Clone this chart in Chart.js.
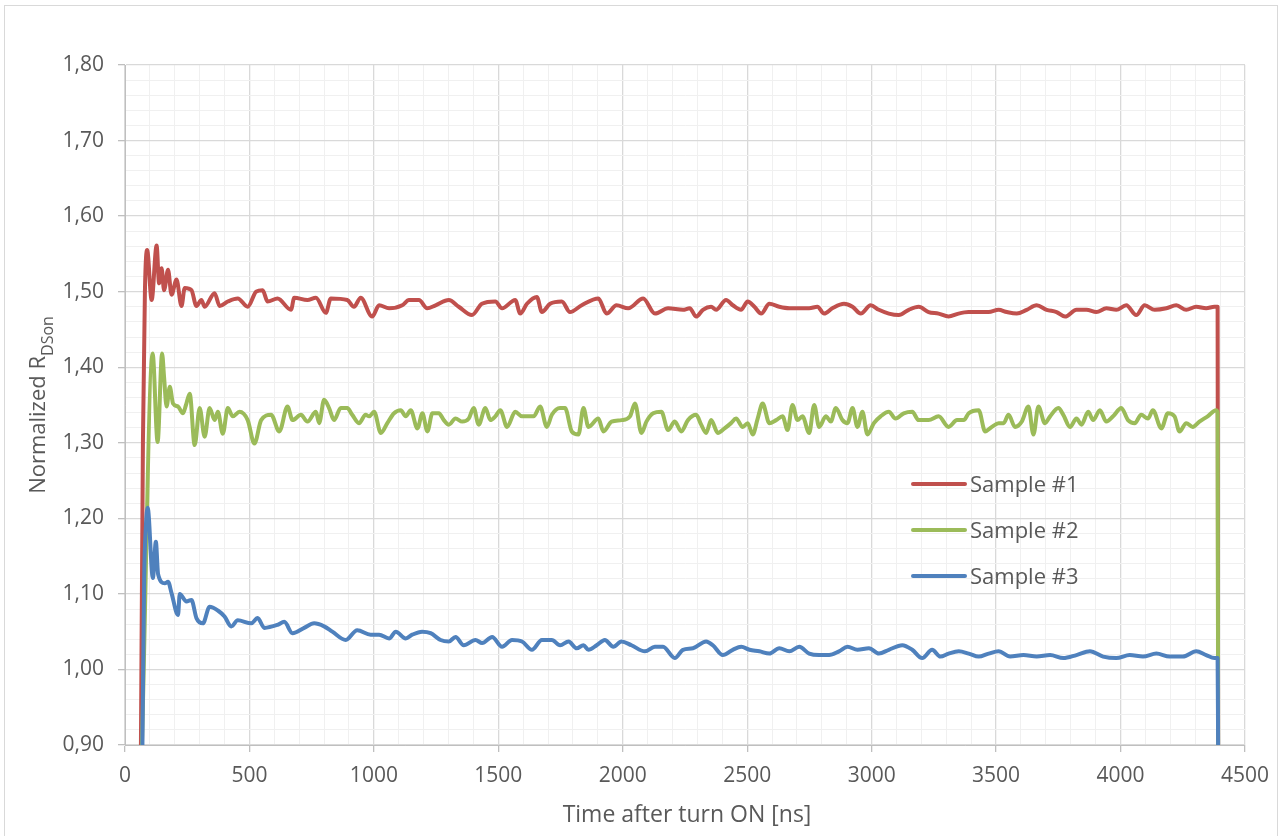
<!DOCTYPE html>
<html><head><meta charset="utf-8">
<script src="https://cdn.jsdelivr.net/npm/chart.js@4.4.1/dist/chart.umd.min.js"></script>
<style>html,body{margin:0;padding:0;background:#fff}#wrap{position:relative;width:1280px;height:836px}canvas{display:block}</style>
</head><body><div id="wrap"><canvas id="c" width="1280" height="836"></canvas></div>
<script>
const seriesNames = ['Sample #1', 'Sample #2', 'Sample #3'];
const seriesColors = ['#C0504D', '#9BBB59', '#4F81BD'];
const xAxisTitle = 'Time after turn ON [ns]';
const yAxisTitleMain = 'Normalized R';
const yAxisTitleSub = 'DSon';
const xMin = 0, xMax = 4500, xMinor = 100, xMajor = 500;
const yMin = 0.9, yMax = 1.8, yMinor = 0.02;

const s1Time = [64,72,80,89,107,127,137,147,157,173,187,207,227,240,267,287,307,320,360,380,413,453,493,527,553,573,613,667,680,733,767,807,827,893,920,947,993,
1021,1061,1114,1141,1181,1214,1248,1301,1341,1394,1434,1488,1515,1568,1588,1615,1655,1675,1708,1755,1788,1835,1902,1935,1975,2022,2082,2129,2182,2242,
2269,2295,2322,2355,2375,2415,2442,2475,2502,2529,2556,2589,2629,2669,2709,2749,2782,2809,2842,2889,2923,2956,2996,3029,3069,3109,3149,3189,3229,3269,3309,3349,3389,3430,3470,3510,
3543,3583,3623,3663,3703,3743,3777,3823,3863,3903,3943,3983,4023,4063,4097,4137,4184,4224,4264,4304,4344,4377,4390,4392];
const s1Val = [0.90,1.30,1.50,1.555,1.489,1.561,1.511,1.531,1.502,1.529,1.496,1.516,1.481,1.505,1.502,1.481,1.489,1.480,1.498,1.481,1.487,1.491,1.480,1.500,1.502,1.487,1.491,1.476,1.492,1.489,1.492,1.472,1.491,1.489,1.480,1.492,1.467,
1.482,1.478,1.482,1.489,1.489,1.478,1.482,1.489,1.480,1.469,1.484,1.487,1.478,1.489,1.471,1.484,1.493,1.473,1.484,1.487,1.473,1.482,1.491,1.471,1.482,1.478,1.491,1.471,1.478,1.476,
1.478,1.467,1.476,1.480,1.476,1.489,1.482,1.476,1.487,1.480,1.471,1.484,1.480,1.478,1.478,1.478,1.480,1.471,1.478,1.484,1.480,1.471,1.482,1.476,1.471,1.469,1.476,1.480,1.473,1.471,1.467,1.471,1.473,1.473,1.473,1.476,
1.473,1.471,1.476,1.482,1.476,1.473,1.467,1.476,1.476,1.473,1.478,1.476,1.482,1.469,1.482,1.476,1.478,1.482,1.476,1.480,1.478,1.480,1.480,0.90];

const s2Time = [68,111,131,149,157,167,180,193,213,233,245,260,280,300,320,340,360,373,393,413,433,460,493,520,547,587,620,653,673,707,733,767,780,800,820,840,867,893,913,940,967,
981,1001,1028,1054,1081,1108,1128,1148,1175,1195,1215,1235,1261,1281,1301,1328,1355,1381,1401,1421,1448,1468,1488,1508,1535,1568,1595,1642,1668,1695,1715,1748,1768,1795,1822,1842,1862,1902,1922,1955,1995,2029,2049,2075,2095,2122,2155,2182,2209,2235,
2262,2295,2315,2335,2355,2382,2409,2435,2455,2482,2502,2522,2542,2562,2589,2616,2642,2662,2682,2702,2722,2749,2769,2789,2816,2836,2856,2883,2903,2923,2943,2963,2983,3009,3036,3069,3096,3129,3163,3189,3229,3269,3309,3343,3370,3390,3430,3456,3483,3510,
3530,3550,3576,3603,3630,3650,3670,3696,3717,3750,3770,3797,3823,3843,3870,3890,3917,3943,3970,4003,4030,4057,4083,4110,4130,4164,4190,4217,4237,4264,4290,4317,4350,4384,4390,4392];
const s2Val = [0.90,1.418,1.301,1.418,1.387,1.348,1.374,1.352,1.348,1.339,1.350,1.365,1.297,1.346,1.308,1.346,1.330,1.341,1.312,1.346,1.335,1.341,1.330,1.299,1.330,1.337,1.315,1.348,1.330,1.337,1.328,1.341,1.326,1.357,1.346,1.330,1.346,1.346,1.337,1.326,1.337,
1.335,1.341,1.313,1.326,1.339,1.343,1.335,1.343,1.319,1.339,1.315,1.339,1.339,1.330,1.324,1.332,1.328,1.332,1.346,1.324,1.346,1.330,1.335,1.343,1.321,1.341,1.335,1.335,1.348,1.321,1.337,1.346,1.346,1.315,1.311,1.346,1.321,1.332,1.315,1.328,1.330,1.335,1.352,1.313,1.328,1.339,1.341,1.317,1.328,1.315,
1.330,1.337,1.324,1.313,1.330,1.313,1.319,1.326,1.332,1.321,1.326,1.311,1.332,1.352,1.326,1.330,1.335,1.317,1.350,1.330,1.335,1.313,1.350,1.321,1.335,1.328,1.346,1.330,1.326,1.346,1.321,1.341,1.311,1.326,1.335,1.341,1.332,1.339,1.341,1.330,1.330,1.335,1.321,1.330,1.330,1.339,1.343,1.315,1.321,1.326,
1.326,1.337,1.321,1.328,1.348,1.311,1.348,1.326,1.335,1.346,1.337,1.321,1.332,1.324,1.341,1.330,1.343,1.328,1.335,1.346,1.330,1.326,1.337,1.332,1.343,1.319,1.339,1.335,1.315,1.326,1.321,1.328,1.335,1.343,1.340,0.90];

const s3Time = [70,77,84,91,112,124,133,160,173,187,213,220,247,267,287,313,340,373,400,427,453,507,533,560,613,640,673,720,760,800,833,887,933,987,
1021,1061,1088,1128,1154,1194,1228,1268,1301,1328,1361,1408,1435,1475,1515,1555,1595,1635,1675,1715,1748,1782,1815,1842,1862,1895,1928,1962,1995,2035,2089,2129,2162,2209,2242,
2282,2335,2362,2402,2442,2476,2509,2549,2589,2629,2669,2709,2749,2789,2829,2869,2903,2943,2989,3029,3069,3123,3163,3203,3243,3276,3309,3350,3390,3430,3470,3510,
3556,3610,3663,3717,3770,3823,3877,3930,3983,4037,4090,4144,4197,4250,4304,4344,4377,4390,4392];
const s3Val = [0.90,1.12,1.19,1.214,1.121,1.169,1.126,1.114,1.116,1.101,1.072,1.100,1.090,1.092,1.068,1.061,1.083,1.078,1.070,1.057,1.065,1.061,1.068,1.055,1.059,1.063,1.048,1.055,1.061,1.057,1.050,1.039,1.052,1.046,
1.046,1.041,1.050,1.041,1.046,1.050,1.048,1.039,1.037,1.043,1.032,1.039,1.035,1.043,1.030,1.039,1.037,1.026,1.039,1.039,1.032,1.037,1.028,1.032,1.026,1.032,1.039,1.030,1.037,1.032,1.024,1.030,1.030,1.015,1.026,
1.028,1.037,1.032,1.019,1.026,1.030,1.026,1.024,1.021,1.028,1.024,1.030,1.021,1.019,1.019,1.024,1.030,1.026,1.028,1.021,1.026,1.032,1.026,1.015,1.026,1.017,1.021,1.024,1.021,1.017,1.021,1.024,
1.017,1.019,1.017,1.019,1.015,1.019,1.024,1.017,1.015,1.019,1.017,1.021,1.017,1.017,1.024,1.019,1.015,1.015,0.90];

const FONT = '"Open Sans", "Liberation Sans", sans-serif';
const TXT = '#595959';

function pts(t, v) { return t.map((x, i) => ({ x: x, y: v[i] })); }
const isMajorX = v => Math.round(v) % xMajor === 0;
const isMajorY = v => Math.round(v * 100) % 10 === 0;

const extras = {
  id: 'extras',
  afterDraw(chart) {
    const ctx = chart.ctx;
    ctx.save();
    ctx.strokeStyle = '#d9d9d9';
    ctx.lineWidth = 1;
    ctx.strokeRect(4.5, 5.5, 1273, 840);
    ctx.fillStyle = TXT;
    ctx.font = '23px ' + FONT;
    ctx.textAlign = 'center';
    ctx.textBaseline = 'alphabetic';
    ctx.fillText(xAxisTitle, 687, 822);
    ctx.save();
    ctx.translate(37, 405);
    ctx.rotate(-Math.PI / 2);
    ctx.font = '22px ' + FONT;
    const w1 = ctx.measureText(yAxisTitleMain).width;
    ctx.font = '16px ' + FONT;
    const w2 = ctx.measureText(yAxisTitleSub).width;
    const x0 = -(w1 + w2) / 2;
    ctx.textAlign = 'left';
    ctx.font = '22px ' + FONT;
    ctx.fillText(yAxisTitleMain, x0, 8);
    ctx.font = '16px ' + FONT;
    ctx.fillText(yAxisTitleSub, x0 + w1, 16);
    ctx.restore();
    const ys = [484, 530, 576];
    chart.data.datasets.forEach((ds, i) => {
      ctx.strokeStyle = ds.borderColor;
      ctx.lineWidth = 4;
      ctx.lineCap = 'round';
      ctx.beginPath();
      ctx.moveTo(913, ys[i]);
      ctx.lineTo(965, ys[i]);
      ctx.stroke();
      ctx.fillStyle = TXT;
      ctx.font = '22px ' + FONT;
      ctx.textAlign = 'left';
      ctx.textBaseline = 'alphabetic';
      ctx.fillText(ds.label, 970, ys[i] + 8);
    });
    ctx.restore();
  }
};

new Chart(document.getElementById('c'), {
  type: 'line',
  data: {
    datasets: [
      { label: seriesNames[0], data: pts(s1Time, s1Val), borderColor: seriesColors[0], order: 3 },
      { label: seriesNames[1], data: pts(s2Time, s2Val), borderColor: seriesColors[1], order: 2 },
      { label: seriesNames[2], data: pts(s3Time, s3Val), borderColor: seriesColors[2], order: 1 }
    ]
  },
  options: {
    responsive: false,
    animation: false,
    devicePixelRatio: 1,
    layout: { padding: { top: 65, right: 31, left: 0, bottom: 0 } },
    elements: {
      line: { borderWidth: 4, tension: 0.4, cubicInterpolationMode: 'monotone', borderJoinStyle: 'round', borderCapStyle: 'round', fill: false },
      point: { radius: 0, hoverRadius: 0 }
    },
    plugins: { legend: { display: false }, tooltip: { enabled: false } },
    scales: {
      x: {
        type: 'linear', min: xMin, max: xMax,
        afterFit: s => { s.height = 91; },
        border: { color: '#bfbfbf', width: 1 },
        grid: {
          color: c => isMajorX(c.tick ? c.tick.value : 0) ? '#d9d9d9' : '#f0f0f0',
          lineWidth: c => isMajorX(c.tick ? c.tick.value : 0) ? 1.3 : 1,
          tickColor: c => isMajorX(c.tick ? c.tick.value : 0) ? '#bfbfbf' : 'rgba(0,0,0,0)',
          tickLength: 7
        },
        ticks: {
          stepSize: xMinor, autoSkip: false, maxRotation: 0, padding: 11,
          color: TXT, font: { family: FONT, size: 21 },
          callback: v => isMajorX(v) ? String(v) : ''
        }
      },
      y: {
        type: 'linear', min: yMin, max: yMax,
        afterFit: s => { s.width = 125; },
        border: { color: '#bfbfbf', width: 1 },
        grid: {
          color: c => isMajorY(c.tick ? c.tick.value : 0) ? '#d9d9d9' : '#f0f0f0',
          lineWidth: c => isMajorY(c.tick ? c.tick.value : 0) ? 1.3 : 1,
          tickColor: c => isMajorY(c.tick ? c.tick.value : 0) ? '#bfbfbf' : 'rgba(0,0,0,0)',
          tickLength: 7
        },
        ticks: {
          stepSize: yMinor, autoSkip: false, padding: 14,
          color: TXT, font: { family: FONT, size: 21 },
          callback: v => isMajorY(v) ? (Math.round(v * 100) / 100).toFixed(2).replace('.', ',') : ''
        }
      }
    }
  },
  plugins: [extras]
});
</script>
</body></html>
